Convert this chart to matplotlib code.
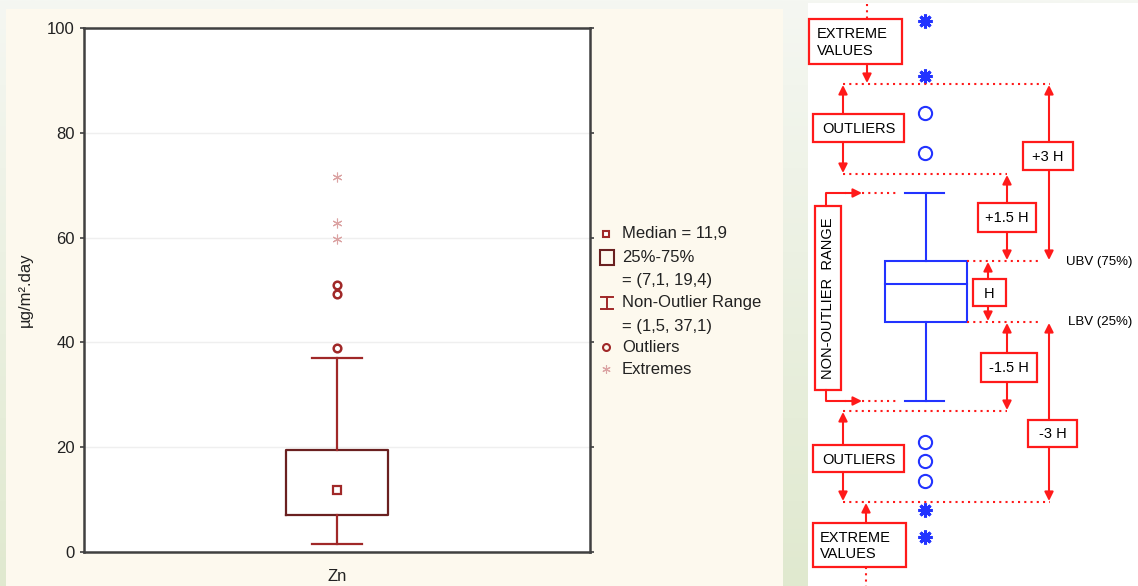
import numpy as np
import matplotlib.pyplot as plt
from matplotlib.patches import Rectangle, FancyArrowPatch
from matplotlib.colors import to_rgb

plt.rcParams['font.family'] = ['Liberation Sans', 'DejaVu Sans']

# Zn deposition summary (ug/m2.day)
category = ["Zn"]
median = 11.9
q1, q3 = 7.1, 19.4
whis_lo, whis_hi = 1.5, 37.1
outliers = [38.9, 49.2, 51.0]
extremes = [59.8, 62.7, 71.5]
yticks = [0, 20, 40, 60, 80, 100]

legend_lines = ["Median = 11,9", "25%-75%", "= (7,1, 19,4)", "Non-Outlier Range",
                "= (1,5, 37,1)", "Outliers", "Extremes"]

W, H = 1138, 586
fig = plt.figure(figsize=(W / 100, H / 100), dpi=100)

# background: soft green gradient, cream panel left, white panel right
bg = fig.add_axes([0, 0, 1, 1], zorder=-10)
c0, c1 = np.array(to_rgb("#f5f7f2")), np.array(to_rgb("#e0e9cf"))
t = np.linspace(0, 1, 200)[:, None, None]
bg.imshow(c0 + (c1 - c0) * t, extent=(0, W, H, 0), aspect="auto")
bg.add_patch(Rectangle((6, 9), 777, H - 9, color="#fdf9ee", lw=0))
bg.add_patch(Rectangle((808, 3), W - 808, H - 3, color="white", lw=0))
bg.set_xlim(0, W)
bg.set_ylim(H, 0)
bg.axis("off")

# ---- box plot ----
ax = fig.add_axes([84 / W, (H - 552) / H, (590 - 84) / W, (552 - 28) / H])
ax.set_facecolor("white")
box_c = "#6a2020"
red_c = "#a02828"
ext_c = "#dba3a3"
stats = [dict(med=median, q1=q1, q3=q3, whislo=whis_lo, whishi=whis_hi, fliers=[])]
ax.bxp(stats, positions=[0.5], widths=0.2, capwidths=0.1,
       boxprops=dict(color=box_c, lw=1.6),
       whiskerprops=dict(color=red_c, lw=1.6),
       capprops=dict(color=red_c, lw=1.6),
       medianprops=dict(lw=0))
ax.plot([0.5], [median], "s", ms=6, mfc="white", mec=red_c, mew=1.6)
ax.plot([0.5] * len(outliers), outliers, "o", ms=5.5, mfc="none", mec=red_c, mew=1.8)
ax.plot([0.5] * len(extremes), extremes, marker=(6, 2, 0), ls="none", ms=7, mec=ext_c, mew=0.8)

ax.set_xlim(0, 1)
ax.set_ylim(0, 100)
ax.set_yticks(yticks)
ax.set_xticks([0.5])
ax.set_xticklabels(category)
ax.tick_params(axis="y", direction="out", length=3, labelsize=12, right=True, colors="#404040",
               labelcolor="#222222", width=1.2)
ax.tick_params(axis="x", length=0, labelsize=12, labelcolor="#222222", pad=12)
ax.grid(axis="y", color="#efefef", lw=1)
ax.set_axisbelow(True)
for s in ax.spines.values():
    s.set_color("#404040")
    s.set_linewidth(1.8)
ax.set_ylabel("µg/m².day", fontsize=12, labelpad=10, color="#222222")

# ---- overlay in pixel coordinates: legend and explanatory diagram ----
ov = fig.add_axes([0, 0, 1, 1], zorder=5)
ov.set_xlim(0, W)
ov.set_ylim(H, 0)
ov.axis("off")
ov.patch.set_alpha(0)

leg_y = [234, 257, 280, 303, 326, 347, 369]
for txt, y in zip(legend_lines, leg_y):
    ov.text(622, y, txt, fontsize=12, va="center", ha="left", color="#222222")
ov.plot(606, leg_y[0], "s", ms=5, mfc="white", mec=red_c, mew=1.5)
ov.add_patch(Rectangle((600, 250), 14, 15, fill=False, ec=box_c, lw=1.5))
ov.plot([607, 607], [297, 309], color=red_c, lw=1.4)
ov.plot([601, 613], [297, 297], color=red_c, lw=1.4)
ov.plot([601, 613], [309, 309], color=red_c, lw=1.4)
ov.plot(606, leg_y[5], "o", ms=5, mfc="none", mec=red_c, mew=1.5)
ov.plot(606, leg_y[6], marker=(6, 2, 0), ms=6, mec=ext_c, mew=0.8)

R = "#ff1a1a"
B = "#2233ff"


def arrow(x0, y0, x1, y1):
    ov.add_patch(FancyArrowPatch((x0, y0), (x1, y1), arrowstyle="-|>", mutation_scale=13,
                                 color=R, lw=1.5, shrinkA=0, shrinkB=0))


def dots(xs, ys):
    ov.plot(xs, ys, color=R, lw=1.5, ls=(0, (1, 2)))


def label_box(x0, y0, x1, y1, lines, left=None):
    ov.add_patch(Rectangle((x0, y0), x1 - x0, y1 - y0, fill=False, ec=R, lw=1.6))
    if left is None:
        ov.text((x0 + x1) / 2, (y0 + y1) / 2 + 1, lines, ha="center", va="center", fontsize=10.5)
    else:
        ov.text(left, (y0 + y1) / 2 + 1, lines, ha="left", va="center", fontsize=10.5,
                linespacing=1.25)


# schematic box plot
ov.add_patch(Rectangle((885, 261), 82, 61, fill=False, ec=B, lw=1.5))
ov.plot([885, 967], [284, 284], color=B, lw=1.5)
ov.plot([926, 926], [193, 261], color=B, lw=1.5)
ov.plot([926, 926], [322, 401], color=B, lw=1.5)
ov.plot([905, 944], [193, 193], color=B, lw=1.5)
ov.plot([905, 944], [401, 401], color=B, lw=1.5)
for y in [113, 153, 442, 461, 481]:
    ov.plot(925, y, "o", ms=9.5, mfc="none", mec=B, mew=1.5)
for y in [21, 76, 510, 537]:
    ov.plot(925, y, marker=(8, 2, 0), ms=10, mec=B, mew=2.2)

# extreme values
label_box(809, 19, 902, 64, "EXTREME\nVALUES", left=817)
dots([867, 867], [4, 19])
arrow(867, 64, 867, 83)
label_box(813, 523, 906, 567, "EXTREME\nVALUES", left=820)
arrow(866, 523, 866, 503)
dots([866, 866], [567, 586])

# outliers
label_box(813, 114, 904, 142, "OUTLIERS")
arrow(843, 114, 843, 85)
arrow(843, 142, 843, 173)
label_box(813, 445, 904, 472, "OUTLIERS")
arrow(843, 445, 843, 412)
arrow(843, 472, 843, 501)

# fences
dots([843, 1050], [84, 84])
dots([843, 1007], [174, 174])
dots([843, 1007], [411, 411])
dots([843, 1050], [502, 502])
dots([967, 1040], [261, 261])
dots([967, 1040], [322, 322])
dots([862, 898], [193, 193])
dots([862, 898], [401, 401])

# non-outlier range
ov.add_patch(Rectangle((815, 206), 26, 184, fill=False, ec=R, lw=1.6))
ov.text(828, 298, "NON-OUTLIER  RANGE", rotation=90, ha="center", va="center", fontsize=10.5)
ov.plot([826, 826, 845], [206, 193, 193], color=R, lw=1.5)
arrow(845, 193, 862, 193)
ov.plot([826, 826, 845], [390, 401, 401], color=R, lw=1.5)
arrow(845, 401, 862, 401)

# H multiples
label_box(1023, 142, 1073, 170, "+3 H")
arrow(1049, 142, 1049, 85)
arrow(1049, 170, 1049, 260)
label_box(978, 203, 1036, 232, "+1.5 H")
arrow(1007, 203, 1007, 175)
arrow(1007, 232, 1007, 260)
label_box(973, 279, 1006, 306, "H")
arrow(988, 279, 988, 262)
arrow(988, 306, 988, 321)
label_box(981, 353, 1037, 382, "-1.5 H")
arrow(1007, 353, 1007, 323)
arrow(1007, 382, 1007, 410)
label_box(1028, 420, 1077, 447, "-3 H")
arrow(1049, 420, 1049, 323)
arrow(1049, 447, 1049, 501)

ov.text(1066, 262, "UBV (75%)", ha="left", va="center", fontsize=9.5)
ov.text(1068, 322, "LBV (25%)", ha="left", va="center", fontsize=9.5)

fig.savefig("out.png", dpi=100)
